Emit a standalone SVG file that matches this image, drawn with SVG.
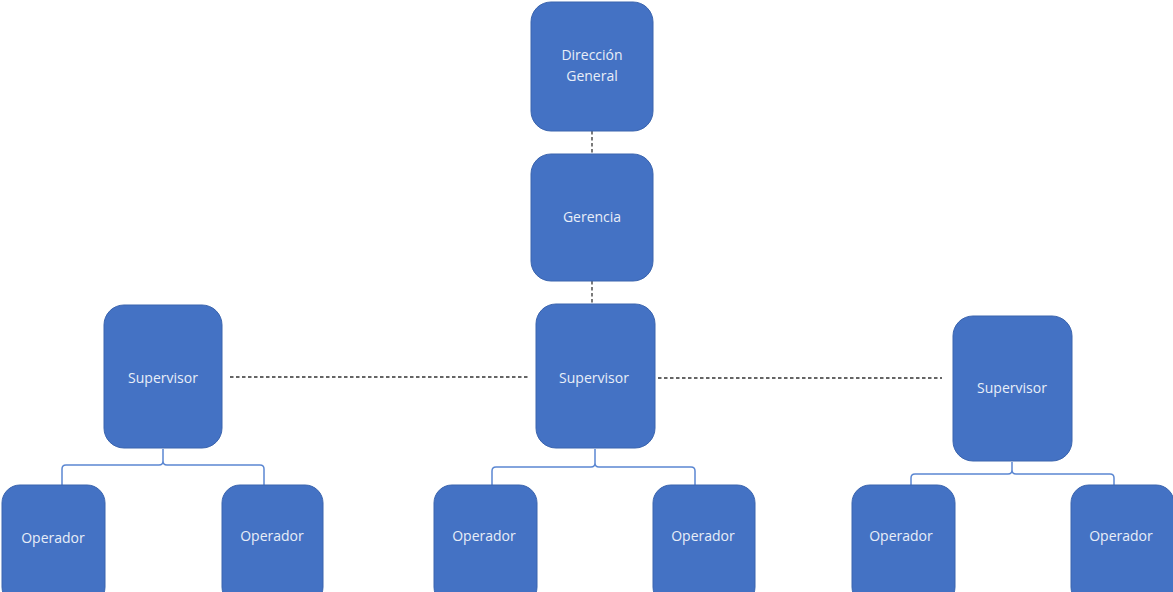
<svg xmlns="http://www.w3.org/2000/svg" width="1173" height="592" viewBox="0 0 1173 592">
<style>
.box{fill:#4472C4;stroke:#3A64AE;stroke-width:1}
.t{font-family:"Open Sans","Noto Sans","Liberation Sans",sans-serif;font-size:14px;fill:#E8EEF8;text-anchor:middle}
.dash{stroke:#333;stroke-width:1.3;stroke-dasharray:3.5 2.5;fill:none}
.br{stroke:#5B87D2;stroke-width:1.5;fill:none}
</style>
<rect width="1173" height="592" fill="#fff"/>
<g id="connectors">
<line class="dash" x1="592" y1="131" x2="592" y2="154"/>
<line class="dash" x1="592" y1="281" x2="592" y2="304"/>
<line class="dash" x1="230" y1="377" x2="528" y2="377"/>
<line class="dash" x1="658" y1="378" x2="942" y2="378"/>
<path class="br" d="M62 485 V469 Q62 465 66 465 H159 Q163 465 163 461 V449 M163 461 Q163 465 167 465 H260 Q264 465 264 469 V485"/>
<path class="br" d="M492 485 V471 Q492 467 496 467 H591 Q595 467 595 463 V449 M595 463 Q595 467 599 467 H691 Q695 467 695 471 V485"/>
<path class="br" d="M911 485 V478 Q911 474 915 474 H1008 Q1012 474 1012 470 V462 M1012 470 Q1012 474 1016 474 H1110 Q1114 474 1114 478 V485"/>
</g>
<g id="direccion"><rect class="box" x="531" y="2" width="122" height="129" rx="20"/><text class="t" x="592" y="60">Dirección</text><text class="t" x="592" y="81">General</text></g>
<g id="gerencia"><rect class="box" x="531" y="154" width="122" height="127" rx="20"/><text class="t" x="592" y="222">Gerencia</text></g>
<g id="sup-left"><rect class="box" x="104" y="305" width="118" height="143" rx="20"/><text class="t" x="163" y="383">Supervisor</text></g>
<g id="sup-center"><rect class="box" x="536" y="304" width="119" height="144" rx="20"/><text class="t" x="594" y="383">Supervisor</text></g>
<g id="sup-right"><rect class="box" x="953" y="316" width="119" height="145" rx="20"/><text class="t" x="1012" y="393">Supervisor</text></g>
<g id="op1"><rect class="box" x="2" y="485" width="103" height="120" rx="18"/><text class="t" x="53" y="543">Operador</text></g>
<g id="op2"><rect class="box" x="222" y="485" width="101" height="120" rx="18"/><text class="t" x="272" y="541">Operador</text></g>
<g id="op3"><rect class="box" x="434" y="485" width="103" height="120" rx="18"/><text class="t" x="484" y="541">Operador</text></g>
<g id="op4"><rect class="box" x="653" y="485" width="102" height="120" rx="18"/><text class="t" x="703" y="541">Operador</text></g>
<g id="op5"><rect class="box" x="852" y="485" width="103" height="120" rx="18"/><text class="t" x="901" y="541">Operador</text></g>
<g id="op6"><rect class="box" x="1071" y="485" width="103" height="120" rx="18"/><text class="t" x="1121" y="541">Operador</text></g>
</svg>
